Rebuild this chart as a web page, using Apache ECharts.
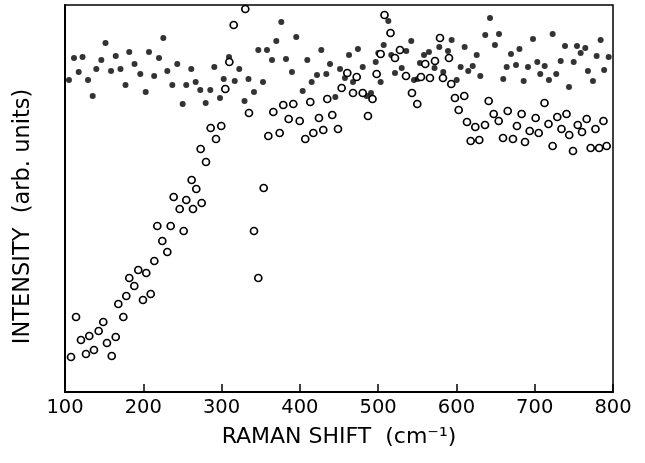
<!DOCTYPE html>
<html>
<head>
<meta charset="utf-8">
<script src="https://cdn.jsdelivr.net/npm/echarts@6/dist/echarts.min.js"></script>
<style>html,body{margin:0;padding:0;background:#fff}#c{width:645px;height:463px}</style>
</head>
<body>
<div id="c"></div>
<script>
const xTicks = [100, 200, 300, 400, 500, 600, 700, 800];

const filledShift = [105.1,111.5,117.5,122.4,129.4,135.4,140.0,146.4,151.7,158.8,
164.8,170.9,177.3,182.1,188.8,196.2,203.1,207.3,213.9,220.1,
225.6,230.7,237.1,243.4,250.3,254.9,261.3,266.9,272.8,279.7,
285.6,290.7,298.0,302.7,309.5,316.8,322.6,329.3,334.4,341.4,
346.9,352.9,358.0,364.4,369.9,376.3,382.3,389.9,395.4,403.6,
409.5,415.1,421.9,427.4,433.8,438.5,445.3,451.3,457.6,462.8,
467.9,474.2,480.3,485.4,490.9,496.9,500.2,503.2,507.1,513.0,
516.8,521.5,530.1,535.9,542.3,545.8,550.5,553.4,558.6,564.9,
572.0,578.1,583.2,589.2,593.9,600.3,605.4,610.5,615.1,620.8,
625.9,630.5,636.8,642.9,649.2,654.4,659.8,664.2,669.7,676.1,
680.5,685.9,691.4,697.8,703.3,707.1,712.7,718.2,722.9,727.5,
733.2,738.7,743.8,749.8,754.0,758.7,764.6,768.0,774.4,779.1,
784.2,788.7,794.5];
const filledIntensity = [312,334,320,335,312,296,323,332,349,321,
336,323,307,340,328,318,300,340,316,334,
354,321,307,328,288,307,323,310,302,289,
302,325,294,313,335,311,323,291,313,300,
342,310,342,332,351,370,333,320,355,301,
332,310,317,342,318,328,295,323,314,337,
310,343,325,296,299,330,339,310,347,371,
337,319,324,341,351,312,313,329,337,340,
324,345,320,341,352,312,325,345,321,326,
337,316,357,374,347,358,313,325,338,327,
343,311,325,353,330,318,326,312,358,318,
331,346,305,330,346,339,344,321,311,336,
352,322,335];

const openShift = [107.7,114.1,120.4,126.8,131.0,137.0,143.0,148.9,153.6,159.7,
164.8,168.1,174.5,178.3,182.1,188.5,193.6,199.6,203.8,209.5,
214.1,217.9,224.3,230.7,235.0,238.8,246.5,251.6,254.9,261.8,
263.5,267.7,273.3,274.6,280.1,286.1,292.9,299.6,304.8,309.9,
315.5,330.3,335.0,341.4,346.9,353.8,359.7,366.1,374.2,378.8,
385.7,391.6,399.8,406.9,413.3,417.2,424.4,429.9,435.0,441.4,
448.7,453.4,460.6,467.9,472.6,480.3,487.0,492.8,498.1,503.2,
508.1,515.8,521.5,527.9,535.6,543.2,550.0,554.7,560.2,566.2,
572.6,579.0,582.8,590.5,593.4,598.1,602.9,610.0,613.5,618.2,
624.1,629.2,636.5,641.2,647.6,654.0,659.5,665.5,672.2,677.3,
683.3,687.6,693.6,701.2,705.1,712.5,717.6,722.9,728.8,734.2,
740.6,744.1,748.9,755.0,760.4,766.4,771.5,777.6,782.3,787.8,
791.9];
const openIntensity = [35,75,52,38,56,42,61,70,49,36,
55,88,75,96,114,106,122,92,119,98,
131,166,151,140,166,195,183,161,192,212,
183,203,243,189,230,264,253,266,303,330,
367,383,279,161,114,204,256,280,259,287,
273,288,271,253,290,259,274,262,293,277,
263,304,319,299,315,299,276,293,318,338,
377,359,334,342,316,299,288,315,328,314,
331,354,314,334,308,294,282,296,270,251,
265,252,267,291,278,271,254,281,253,266,
278,250,261,274,259,289,268,246,275,263,
278,257,241,267,260,273,244,263,244,271,
246];

const pairs = (xs, ys) => xs.map((x, i) => [x, ys[i]]);
const FONT = '"DejaVu Sans", "Liberation Sans", sans-serif';

const chart = echarts.init(document.getElementById('c'), null, {renderer: 'canvas'});
chart.setOption({
  animation: false,
  backgroundColor: '#fff',
  grid: {left: 65, right: 32, top: 5, bottom: 71, show: true, borderColor: '#000', borderWidth: 1.5, backgroundColor: 'transparent'},
  xAxis: {
    type: 'value', min: xTicks[0], max: xTicks[xTicks.length - 1], interval: 100,
    name: 'RAMAN SHIFT  (cm⁻¹)', nameLocation: 'middle', nameGap: 34,
    nameTextStyle: {fontFamily: FONT, fontSize: 22, color: '#000'},
    axisLine: {lineStyle: {color: '#000', width: 2}},
    axisTick: {inside: true, length: 8, lineStyle: {color: '#000', width: 1.5}},
    axisLabel: {fontFamily: FONT, fontSize: 19.5, color: '#000', margin: 6},
    splitLine: {show: false}
  },
  yAxis: {
    type: 'value', min: 0, max: 387,
    name: 'INTENSITY  (arb. units)', nameLocation: 'middle', nameGap: 30,
    nameTextStyle: {fontFamily: FONT, fontSize: 22.5, color: '#000', padding: [0, 36, 0, 0]},
    axisLine: {lineStyle: {color: '#000', width: 2}},
    axisTick: {show: false}, axisLabel: {show: false}, splitLine: {show: false}
  },
  series: [
    {type: 'scatter', data: pairs(filledShift, filledIntensity), symbol: 'circle', symbolSize: 6,
     itemStyle: {color: '#000'}, silent: true},
    {type: 'scatter', data: pairs(openShift, openIntensity), symbol: 'circle', symbolSize: 7,
     itemStyle: {color: '#fff', borderColor: '#000', borderWidth: 1.7, opacity: 1}, silent: true}
  ]
});
</script>
</body>
</html>
